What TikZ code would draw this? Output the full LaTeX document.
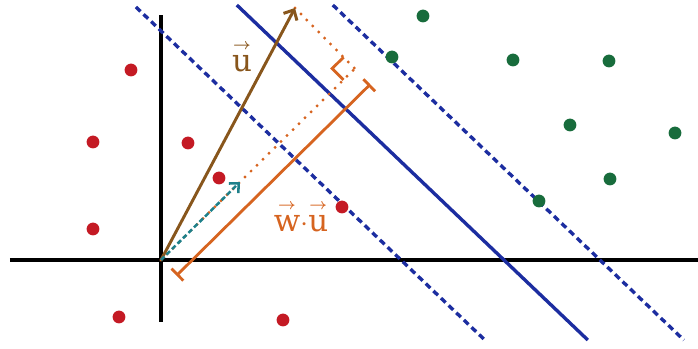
\documentclass[tikz,border=0pt]{standalone}
\usepackage{amsmath}
\usepackage{fontspec}
\newfontfamily\lblfont{DejaVu Serif}
\usepackage{tikz}
\usetikzlibrary{arrows.meta,calc}
\usepackage{xcolor}
\definecolor{sepblue}{RGB}{28,45,160}
\definecolor{negred}{RGB}{196,26,36}
\definecolor{posgreen}{RGB}{24,108,60}
\definecolor{ubrown}{RGB}{136,86,28}
\definecolor{projorange}{RGB}{214,100,32}
\definecolor{wteal}{RGB}{30,128,138}
\newcommand{\arrowvec}[1]{\overset{\boldsymbol{\scriptscriptstyle\rightarrow}}{\text{#1}}}
\tikzset{
  axis/.style={black, line width=2.6pt},
  boundary/.style={sepblue, line width=2.4pt},
  margin/.style={sepblue, line width=2.4pt, dash pattern=on 4.5pt off 3pt},
  uvec/.style={ubrown, line width=2.1pt, -{Straight Barb[length=2mm,width=3.8mm,line width=2.1pt]}},
  wvec/.style={wteal, line width=1.8pt, dash pattern=on 3.5pt off 2pt, -{Straight Barb[length=1.8mm,width=3.4mm,line width=1.8pt]}},
  proj/.style={projorange, line width=2.3pt, dash pattern=on 0pt off 6pt, line cap=round},
  measure/.style={projorange, line width=2pt, {Bar[width=4.2mm,line width=2pt]}-{Bar[width=4.2mm,line width=2pt]}},
  dot/.style={circle, minimum size=3.2mm, inner sep=0pt},
  lbl/.style={font=\lblfont\fontsize{22}{26}\selectfont, inner sep=1pt}
}

\begin{document}
\begin{tikzpicture}
\useasboundingbox (-4.025,-2.225) rectangle (13.425,6.5);
% axes
\coordinate (xl) at (-3.775,0);
\coordinate (xr) at (13.425,0);
\coordinate (yb) at (0,-1.55);
\coordinate (yt) at (0,6.125);
\draw[axis] (xl) -- (xr);
\draw[axis] (yb) -- (yt);
% separating line and margins
\coordinate (m1top) at (-0.627,6.325);
\coordinate (m1bot) at (8.096,-2.0);
\coordinate (sbtop) at (1.895,6.375);
\coordinate (sbbot) at (10.67,-2.0);
\coordinate (m2top) at (4.295,6.375);
\coordinate (m2bot) at (13.07,-2.0);
\draw[margin] (m1top) -- (m1bot);
\draw[boundary] (sbtop) -- (sbbot);
\draw[margin] (m2top) -- (m2bot);
% negative samples
\foreach \px/\py [count=\i] in {-0.75/4.75, -1.7/2.95, 0.675/2.925, 1.45/2.05, -1.7/0.775, 4.525/1.325, -1.05/-1.425, 3.05/-1.5}{
  \node[dot, fill=negred] (neg\i) at (\px,\py) {};
}
% positive samples
\foreach \px/\py [count=\i] in {6.55/6.1, 5.775/5.075, 8.8/5.0, 11.2/4.975, 10.225/3.375, 12.85/3.175, 11.225/2.025, 9.45/1.475}{
  \node[dot, fill=posgreen] (pos\i) at (\px,\py) {};
}
% vectors u, w and the projection of u on w
\coordinate (O) at (0,0);
\coordinate (U) at (3.35,6.3);
\coordinate (W) at (1.975,1.95);
\coordinate (P) at ($(O)!(U)!(W)$);
\draw[proj] (O) -- (P);
\draw[proj] (U) -- (P);
\draw[uvec] (O) -- (U);
\draw[wvec] (O) -- (W);
% right angle mark
\coordinate (Pa) at ($(P)!0.4cm!(O)$);
\coordinate (Pb) at ($(P)!0.4cm!(U)$);
\coordinate (Pc) at ($(Pa)+(Pb)-(P)$);
\draw[projorange, line width=2pt] (Pa) -- (Pc) -- (Pb);
% length of the projection
\coordinate (B1) at ($(O)!0.55cm!-90:(P)$);
\coordinate (B2) at ($(P)!0.55cm!90:(O)$);
\draw[measure] (B1) -- (B2);
\node[lbl, text=ubrown] (ulbl) at (2.025,5.1) {$\arrowvec{u}$};
\node[lbl, text=projorange] (wulbl) at (3.5,1.1) {$\arrowvec{w}{\cdot}\arrowvec{u}$};
\end{tikzpicture}
\end{document}
